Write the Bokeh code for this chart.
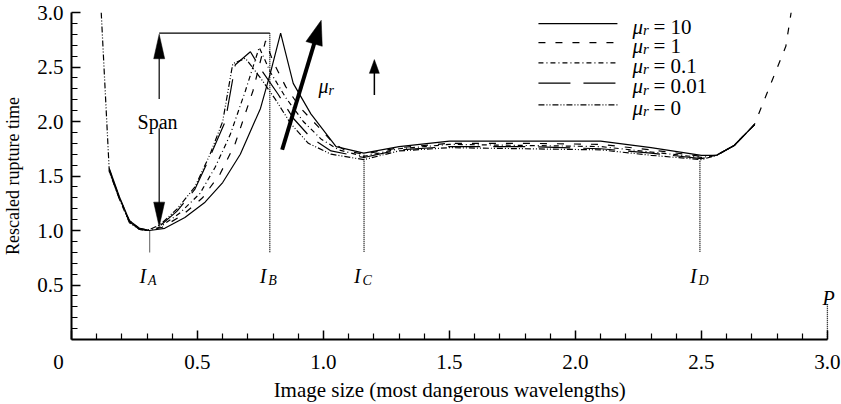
import math
from bokeh.plotting import figure
from bokeh.models import FixedTicker, Label, Range1d
from bokeh.embed import file_html
from bokeh.resources import INLINE

# ---------------- data ----------------
X_TITLE = "Image size (most dangerous wavelengths)"
Y_TITLE = "Rescaled rupture time"
MU_LABELS = ["10", "1", "0.1", "0.01", "0"]
X_TICKS = [0.0, 0.5, 1.0, 1.5, 2.0, 2.5, 3.0]
X_TICK_LABELS = ["0\u2007\u2007\u2008", "0.5", "1.0", "1.5", "2.0", "2.5", "3.0"]
Y_TICKS = [0.5, 1.0, 1.5, 2.0, 2.5, 3.0]
Y_TICK_LABELS = ["0.5", "1.0", "1.5", "2.0", "2.5", "3.0"]
MINOR_TICKS = [0.1, 0.2, 0.3, 0.4, 0.6, 0.7, 0.8, 0.9, 1.1, 1.2, 1.3, 1.4, 1.6, 1.7, 1.8, 1.9,
               2.1, 2.2, 2.3, 2.4, 2.6, 2.7, 2.8, 2.9]

X_MU10 = [0.15, 0.19, 0.23, 0.27, 0.31, 0.37, 0.45, 0.53, 0.60, 0.67, 0.75, 0.79, 0.83,
          0.88, 0.95, 1.05, 1.16, 1.30, 1.50, 1.80, 2.10, 2.30, 2.50, 2.56, 2.63, 2.71]
Y_MU10 = [1.57, 1.31, 1.09, 1.02, 1.00, 1.02, 1.12, 1.26, 1.44, 1.70, 2.12, 2.45, 2.81,
          2.35, 2.07, 1.77, 1.71, 1.77, 1.82, 1.82, 1.82, 1.76, 1.69, 1.69, 1.78, 1.97]

X_MU1 = [0.15, 0.19, 0.23, 0.27, 0.31, 0.36, 0.44, 0.52, 0.59, 0.65, 0.72, 0.77, 0.80,
         0.85, 0.91, 0.98, 1.04, 1.09, 1.16, 1.30, 1.50, 1.80, 2.10, 2.30, 2.50, 2.56,
         2.63, 2.71, 2.835, 2.856]
Y_MU1 = [1.56, 1.30, 1.09, 1.02, 1.00, 1.03, 1.14, 1.30, 1.52, 1.80, 2.28, 2.74, 2.55,
         2.32, 2.12, 1.95, 1.80, 1.73, 1.70, 1.76, 1.80, 1.80, 1.79, 1.74, 1.68, 1.69,
         1.78, 1.97, 2.69, 3.00]

X_MU01 = [0.15, 0.19, 0.23, 0.27, 0.30, 0.35, 0.43, 0.51, 0.57, 0.63, 0.69, 0.745, 0.79,
          0.85, 0.92, 0.99, 1.06, 1.16, 1.30, 1.50, 1.80, 2.10, 2.30, 2.50, 2.56, 2.63, 2.71]
Y_MU01 = [1.55, 1.30, 1.08, 1.02, 1.00, 1.03, 1.16, 1.34, 1.58, 1.88, 2.28, 2.68, 2.45,
          2.22, 2.00, 1.84, 1.74, 1.68, 1.75, 1.79, 1.78, 1.77, 1.72, 1.67, 1.69, 1.78, 1.97]

X_MU001 = [0.15, 0.19, 0.23, 0.27, 0.30, 0.35, 0.42, 0.49, 0.55, 0.61, 0.65, 0.71, 0.76,
           0.82, 0.88, 0.95, 1.03, 1.16, 1.30, 1.50, 1.80, 2.10, 2.30, 2.50, 2.56, 2.63, 2.71]
Y_MU001 = [1.55, 1.29, 1.08, 1.01, 1.00, 1.04, 1.18, 1.38, 1.68, 2.00, 2.52, 2.64, 2.45,
           2.25, 2.03, 1.85, 1.73, 1.67, 1.74, 1.77, 1.77, 1.75, 1.71, 1.66, 1.69, 1.78, 1.97]

X_MU0 = [0.118, 0.15, 0.19, 0.23, 0.27, 0.30, 0.35, 0.42, 0.49, 0.55, 0.60, 0.64, 0.69,
         0.75, 0.81, 0.87, 0.94, 1.03, 1.16, 1.30, 1.50, 1.80, 2.10, 2.30, 2.50, 2.56,
         2.63, 2.71]
Y_MU0 = [3.00, 1.54, 1.29, 1.07, 1.01, 1.00, 1.05, 1.20, 1.40, 1.70, 2.00, 2.53, 2.58,
         2.40, 2.20, 1.98, 1.80, 1.70, 1.65, 1.73, 1.76, 1.75, 1.74, 1.69, 1.65, 1.69,
         1.78, 1.97]

# marked image sizes and their dotted guide extents
MARK_NAMES = ["A", "B", "C", "D"]
MARK_X = [0.31, 0.787, 1.161, 2.494]
MARK_TOP = [0.99, 2.81, 1.696, 1.64]
MARK_BOTTOM = 0.80
P_X = 3.0
P_TOP = 0.324
SPAN_X = 0.348
SPAN_TOP = 2.81
SPAN_BOTTOM = 1.035

# ---------------- layout ----------------
W, H = 841, 404
FL, FT, FB = 71, 12, 345
Y_MAX = 3.0
PXX = 252.0
X_MAX = 3.044
FR = FL + X_MAX * PXX
PXY = (FB - FT) / Y_MAX
FONT = "'Liberation Serif', 'Times New Roman', serif"
LEG_ROWS_PX = [23.3, 42.7, 63.3, 84.0, 106.0]
LEG_X0_PX, LEG_X1_PX, LEG_TEXT_PX = 538, 617, 632


def dxp(px):
    return px / PXX


def dyp(px):
    return px / PXY


def xpx(px):
    return (px - FL) / PXX


def ypx(py):
    return (FB - py) / PXY


p = figure(width=W, height=H, output_backend="svg", toolbar_location=None,
           x_range=Range1d(0, X_MAX), y_range=Range1d(0, Y_MAX),
           min_border_left=FL, min_border_right=int(round(W - FR)), min_border_top=FT,
           min_border_bottom=H - FB, x_axis_label=X_TITLE + "\u2007", y_axis_label=Y_TITLE)
p.outline_line_color = None
p.grid.visible = False
p.background_fill_color = "white"
p.border_fill_color = "white"

for ax, ticks, labels in ((p.xaxis[0], X_TICKS, X_TICK_LABELS), (p.yaxis[0], Y_TICKS, Y_TICK_LABELS)):
    ax.ticker = FixedTicker(ticks=ticks, minor_ticks=MINOR_TICKS)
    ax.major_label_overrides = {t: l for t, l in zip(ticks, labels)}
    ax.bounds = (0, 3.0)
    ax.axis_line_width = 2
    ax.axis_line_color = "black"
    ax.major_tick_line_color = "black"
    ax.minor_tick_line_color = "black"
    ax.major_tick_line_width = 1.5
    ax.minor_tick_line_width = 1.2
    ax.major_tick_out = 0
    ax.minor_tick_out = 0
    ax.major_tick_in = 9
    ax.minor_tick_in = 6
    ax.major_label_text_font = FONT
    ax.major_label_text_font_size = "21px"
    ax.major_label_text_color = "black"
    ax.axis_label_text_font = FONT
    ax.axis_label_text_font_style = "normal"
    ax.axis_label_text_color = "black"
p.xaxis[0].axis_label_text_font_size = "21px"
p.yaxis[0].axis_label_text_font_size = "18px"
p.xaxis[0].major_label_standoff = 10
p.xaxis[0].axis_label_standoff = 1
p.yaxis[0].major_label_standoff = 8
p.yaxis[0].axis_label_standoff = 11

# ---------------- curves ----------------
series = [
    (X_MU10, Y_MU10, "solid"),
    (X_MU1, Y_MU1, "7 10"),
    (X_MU01, Y_MU01, "5 3 1 3"),
    (X_MU001, Y_MU001, "32 13"),
    (X_MU0, Y_MU0, "6 2 1 2 1 2"),
]
for xs, ys, dash in series:
    p.line(xs, ys, line_color="black", line_width=1.2, line_dash=dash)


def lab(x, y, text, size=20, italic=False, align="left", baseline="alphabetic"):
    p.add_layout(Label(x=x, y=y, text=text, text_font=FONT, text_font_size=f"{size}px",
                       text_font_style="italic" if italic else "normal",
                       text_align=align, text_baseline=baseline, text_color="black"))


# legend: line samples and texts
for (xs, ys, dash), mu, row in zip(series, MU_LABELS, LEG_ROWS_PX):
    p.line([xpx(LEG_X0_PX), xpx(LEG_X1_PX)], [ypx(row), ypx(row)],
           line_color="black", line_width=1.2, line_dash=dash)
    lab(xpx(LEG_TEXT_PX), ypx(row + 3), "μ", size=21, italic=True)
    lab(xpx(LEG_TEXT_PX + 10.5), ypx(row + 6.5), "r", size=15, italic=True)
    lab(xpx(LEG_TEXT_PX + 21), ypx(row + 3), "= " + mu, size=21)

# dotted guides and their labels
for name, mx, top in zip(MARK_NAMES, MARK_X, MARK_TOP):
    p.line([mx, mx], [top, MARK_BOTTOM], line_color="black", line_width=1.3, line_dash="1 1")
    lab(mx - dxp(10), 0.585, "I", italic=True)
    lab(mx - dxp(1.5), 0.54, name, size=14, italic=True)
p.line([P_X, P_X], [P_TOP, 0], line_color="black", line_width=1.3, line_dash="1 1")
lab(P_X - dxp(5), 0.378, "P", italic=True)


def arrow(tx, ty, hx, hy, shaft_w, head_len, head_w):
    vx = (hx - tx) * PXX
    vy = (hy - ty) * PXY
    n = math.hypot(vx, vy)
    ux, uy = vx / n, vy / n
    bx, by = -ux * head_len, -uy * head_len
    nx, ny = -uy, ux
    pts = [(0.0, 0.0), (bx + nx * head_w / 2, by + ny * head_w / 2),
           (bx - nx * head_w / 2, by - ny * head_w / 2)]
    xs = [hx + a / PXX for a, b in pts]
    ys = [hy + b / PXY for a, b in pts]
    base_x = hx + (bx + ux * 2) / PXX
    base_y = hy + (by + uy * 2) / PXY
    p.line([tx, base_x], [ty, base_y], line_color="black", line_width=shaft_w)
    p.patch(xs, ys, fill_color="black", line_color="black", line_width=0.5)


# Span annotation
p.line([SPAN_X, MARK_X[1]], [SPAN_TOP, SPAN_TOP], line_color="black", line_width=1.2)
arrow(SPAN_X, ypx(100), SPAN_X, SPAN_TOP - dyp(1), 1.2, 25, 11)
arrow(SPAN_X, ypx(130), SPAN_X, SPAN_BOTTOM, 1.2, 25, 11)
lab(SPAN_X - dxp(1.6), ypx(123), "Span", align="center")

# mu_r trend arrows
arrow(0.836, 1.741, 0.991, 2.928, 4, 25, 17)
lab(0.980, ypx(87), "μ", italic=True)
lab(0.980 + dxp(10), ypx(91.5), "r", size=14, italic=True)
arrow(1.202, 2.243, 1.202, 2.568, 1.5, 14, 10)

open("out.html", "w").write(file_html(p, INLINE))
